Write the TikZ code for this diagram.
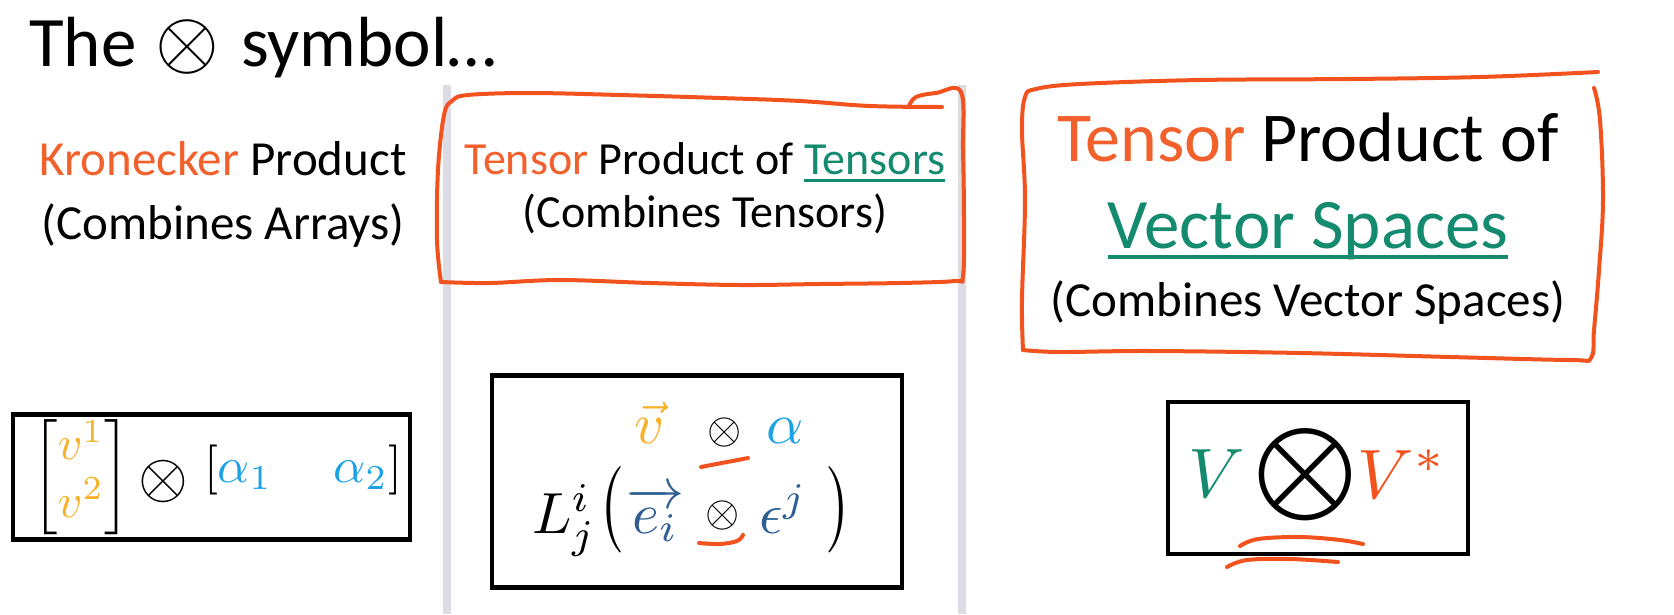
\documentclass[tikz,border=0pt]{standalone}
\usepackage{amsmath}
\usepackage{graphicx}
\usepackage{fontspec}
\setmainfont{Carlito}
\definecolor{inkorange}{HTML}{F2531E}
\definecolor{wordorange}{HTML}{F2612C}
\definecolor{tealgreen}{HTML}{148A6E}
\definecolor{vecyellow}{HTML}{F8B12A}
\definecolor{lightblue}{HTML}{1BA2E4}
\definecolor{darkblue}{HTML}{2E5E94}
\definecolor{rulegray}{HTML}{DDDBE3}
\newcommand\fsz[1]{\fontsize{#1}{#1}\selectfont}
% word with a thick underline in the current colour
\newcommand\ulword[3]{\setbox0\hbox{#1}\rlap{\rule[-#2]{\wd0}{#3}}\box0}
\tikzset{
  handpen/.style={draw=inkorange, line width=4pt, line cap=round, line join=round},
  mathbox/.style={draw=black, line width=4.5pt},
  divider/.style={draw=rulegray, line width=8pt},
  txt/.style={inner sep=0pt, anchor=base},
  sym/.style={inner sep=0pt, anchor=center},
}
\begin{document}
\begin{tikzpicture}[x=1pt,y=-1pt]
\useasboundingbox[fill=white] (0,0) rectangle (1674,614);

% column dividers
\draw[divider] (447,85) -- (447,614);
\draw[divider] (962,85) -- (962,614);

% heading
\node[txt, anchor=base west] (title1) at (29,66) {\fsz{71}The};
\node[sym, scale=8.2] (titleo) at (187,47) {$\otimes$};
\node[txt, anchor=base west] (title2) at (241,66) {\fsz{71}symbol…};

% left column
\node[txt] (kron1) at (223,175) {\fsz{49}\textcolor{wordorange}{Kronecker} Product};
\node[txt] (kron2) at (223,239) {\fsz{49}(Combines Arrays)};

% middle column
\node[txt] (tp1) at (705,174) {\fsz{46}\textcolor{wordorange}{Tensor} Product of \textcolor{tealgreen}{\ulword{Tensors}{8pt}{3pt}}};
\node[txt] (tp2) at (705,227) {\fsz{46}(Combines Tensors)};

% right column
\node[txt] (vs1) at (1308,161) {\fsz{70}\textcolor{wordorange}{Tensor} Product of};
\node[txt] (vs2) at (1308,248) {\fsz{71}\textcolor{tealgreen}{\ulword{Vector Spaces}{11pt}{4pt}}};
\node[txt] (vs3) at (1308,316) {\fsz{49}(Combines Vector Spaces)};

% hand-drawn frame, middle
\draw[handpen] plot[smooth, tension=0.6] coordinates {(441,282) (437,240) (438,170) (444,115) (452,101) (468,95) (530,93) (620,95) (720,98) (800,101) (870,106) (942,107)};
\draw[handpen] plot[smooth, tension=0.6] coordinates {(909,106) (916,97) (936,93) (961,92) (963,150) (964,220) (963,276) (955,281) (900,283) (820,284) (740,285) (650,283) (560,280) (490,283) (441,282)};

% hand-drawn frame, right
\draw[handpen] plot[smooth, tension=0.6] coordinates {(1023,350) (1022,300) (1025,200) (1022,130) (1025,97) (1036,89) (1080,84) (1200,80) (1350,79) (1480,77) (1598,72)};
\draw[handpen] plot[smooth, tension=0.6] coordinates {(1594,88) (1600,120) (1603,200) (1599,270) (1594,330) (1591,358) (1570,360) (1450,357) (1300,353) (1150,351) (1060,352) (1023,350)};

% Kronecker product box
\node[mathbox, minimum width=397pt, minimum height=125pt] (kbox) at (211.5,477) {};
\node[sym, scale=4.8] (kmat) at (81,477) {$\begin{bmatrix}\textcolor{vecyellow}{v^1}\\ \textcolor{vecyellow}{v^2}\end{bmatrix}$};
\node[sym, scale=6.4] (kotimes) at (163,481) {$\otimes$};
\node[txt, anchor=base west, scale=5] (krow) at (203,482) {$[\textcolor{lightblue}{\alpha_1}\quad\ \textcolor{lightblue}{\alpha_2}]$};

% tensor product of tensors box
\node[mathbox, minimum width=410pt, minimum height=212pt] (tbox) at (697,481.5) {};
\node[txt, scale=5.8] (vv) at (650,443) {$\textcolor{vecyellow}{\vec{v}}$};
\node[sym, scale=4.4] (otop) at (725,432) {$\otimes$};
\node[txt, scale=5.8] (aa) at (785,443) {$\textcolor{lightblue}{\alpha}$};
\node[txt, anchor=base west, scale=5.8] (lhs) at (531,533) {$L^i_j$};
\node[sym, xscale=5.5, yscale=7.2] (lpar) at (611,510) {$\bigl($};
\node[txt, anchor=base west, scale=5.8] (evec) at (625,533) {$\textcolor{darkblue}{\overrightarrow{e_i}}$};
\node[sym, scale=4.4] (obot) at (723,515) {$\otimes$};
\node[txt, anchor=base west, scale=5.8] (eps) at (758,533) {$\textcolor{darkblue}{\epsilon}^{\textcolor{darkblue}{j}}$};
\node[sym, xscale=5.5, yscale=7.2] (rpar) at (839,510) {$\bigr)$};
\draw[handpen] (701,467) .. controls (716,464) and (733,461) .. (748,458);
\draw[handpen] plot[smooth, tension=0.6] coordinates {(699,543) (720,544) (737,541) (743,535)};

% tensor product of vector spaces box
\node[mathbox, minimum width=300pt, minimum height=152pt] (vbox) at (1318,478) {};
\node[sym, scale=7, text=tealgreen] (V) at (1217,474) {$V$};
\node[sym, scale=6.6] (bigo) at (1305,475) {$\displaystyle\bigotimes$};
\node[sym, scale=7, text=inkorange] (Vs) at (1402,474) {$V^*$};
\draw[handpen] plot[smooth, tension=0.6] coordinates {(1240,546) (1258,539) (1300,537) (1340,540) (1363,544)};
\draw[handpen] plot[smooth, tension=0.6] coordinates {(1227,567) (1247,560) (1290,559) (1338,562)};
\end{tikzpicture}
\end{document}
